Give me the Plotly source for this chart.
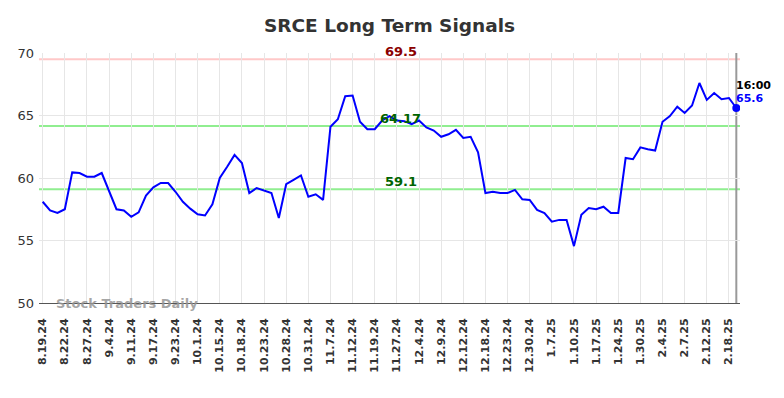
import plotly.graph_objects as go

values = [
    58.1, 57.4, 57.2, 57.5, 60.45, 60.4, 60.1, 60.1, 60.4, 59.0,
    57.5, 57.4, 56.9, 57.25, 58.6, 59.25, 59.6, 59.6, 58.9, 58.1,
    57.55, 57.1, 57.0, 57.9, 60.0, 60.9, 61.85, 61.2, 58.8, 59.2,
    59.0, 58.8, 56.8, 59.5, 59.85, 60.2, 58.5, 58.7, 58.25, 64.1,
    64.7, 66.55, 66.6, 64.5, 63.9, 63.9, 64.6, 64.95, 64.6, 64.55,
    64.3, 64.6, 64.05, 63.8, 63.3, 63.5, 63.85, 63.2, 63.3, 62.05,
    58.8, 58.9, 58.8, 58.8, 59.05, 58.3, 58.25, 57.45, 57.2, 56.5,
    56.65, 56.65, 54.55, 57.05, 57.6, 57.5, 57.7, 57.2, 57.2, 61.6,
    61.5, 62.45, 62.3, 62.2, 64.5, 64.95, 65.7, 65.2, 65.8, 67.6,
    66.25, 66.8, 66.3, 66.4, 65.6,
]
tick_labels = [
    "8.19.24", "8.22.24", "8.27.24", "9.4.24", "9.11.24", "9.17.24", "9.23.24",
    "10.1.24", "10.15.24", "10.18.24", "10.23.24", "10.28.24", "10.31.24",
    "11.7.24", "11.12.24", "11.19.24", "11.27.24", "12.4.24", "12.9.24",
    "12.12.24", "12.18.24", "12.23.24", "12.30.24", "1.7.25", "1.10.25",
    "1.17.25", "1.24.25", "1.30.25", "2.4.25", "2.7.25", "2.12.25", "2.18.25",
]
tick_step = 3
upper_level = 69.5
mid_level = 64.17
lower_level = 59.1
last_time = "16:00"

x = list(range(len(values)))
tickvals = [i * tick_step for i in range(len(tick_labels))]
last_x = x[-1]
last_v = values[-1]

fig = go.Figure()
fig.add_trace(go.Scatter(x=x, y=values, mode="lines",
                         line=dict(color="#0000ff", width=2), hoverinfo="skip"))
fig.add_trace(go.Scatter(x=[last_x], y=[last_v], mode="markers",
                         marker=dict(color="#0000ff", size=8), hoverinfo="skip"))

for lvl, col in [(upper_level, "#ffc8c8"), (mid_level, "#90ee90"), (lower_level, "#90ee90")]:
    fig.add_shape(type="line", xref="paper", x0=0, x1=1, yref="y", y0=lvl, y1=lvl,
                  line=dict(color=col, width=2), layer="below")

fig.add_shape(type="line", xref="x", x0=last_x, x1=last_x, yref="paper", y0=0, y1=1,
              line=dict(color="#999999", width=2), layer="below")

mid_x = 48.5
for lvl, col, txt in [(upper_level, "#8b0000", f"{upper_level}"),
                      (mid_level, "#006400", f"{mid_level}"),
                      (lower_level, "#006400", f"{lower_level}")]:
    fig.add_annotation(x=mid_x, y=lvl, text=f"<b>{txt}</b>", showarrow=False,
                       xanchor="center", yanchor="bottom", yshift=-2,
                       font=dict(color=col, size=13, family="DejaVu Sans"))

fig.add_annotation(x=last_x, y=last_v, text=f"<b>{last_time}</b>", showarrow=False,
                   xanchor="left", yanchor="middle", xshift=-2, yshift=23,
                   font=dict(color="#000000", size=11, family="DejaVu Sans"))
fig.add_annotation(x=last_x, y=last_v, text=f"<b>{last_v}</b>", showarrow=False,
                   xanchor="left", yanchor="middle", xshift=-2, yshift=10,
                   font=dict(color="#0000ff", size=11, family="DejaVu Sans"))

fig.add_annotation(x=1.5, y=50, text="<b>Stock Traders Daily</b>", showarrow=False,
                   xanchor="left", yanchor="middle",
                   font=dict(color="rgba(150,150,150,0.85)", size=13, family="DejaVu Sans"))

fig.update_layout(
    width=784, height=398,
    margin=dict(l=31, r=52, t=45, b=103),
    paper_bgcolor="white", plot_bgcolor="white",
    showlegend=False,
    title=dict(text="<b>SRCE Long Term Signals</b>", x=0.5, xanchor="center",
               xref="paper", y=1 - 18 / 398, yanchor="middle",
               font=dict(size=18.5, color="#333333", family="DejaVu Sans")),
    font=dict(family="DejaVu Sans", color="#333333"),
)
fig.update_xaxes(range=[-0.5, 94.5], tickmode="array", tickvals=tickvals,
                 ticktext=[f"<b>{t}</b>" for t in tick_labels], tickangle=-90,
                 tickfont=dict(size=11, color="#333333"),
                 ticklabelstandoff=10, automargin=False,
                 showgrid=True, gridcolor="#e6e6e6", gridwidth=1,
                 showline=True, linecolor="#555555", linewidth=1,
                 zeroline=False, ticks="")
fig.update_yaxes(range=[50, 70], tickvals=[50, 55, 60, 65, 70],
                 tickfont=dict(size=13, color="#333333"),
                 ticklabelstandoff=4, automargin=False,
                 showgrid=True, gridcolor="#e6e6e6", gridwidth=1,
                 zeroline=False, showline=False, ticks="")

fig.write_html("out.html")
